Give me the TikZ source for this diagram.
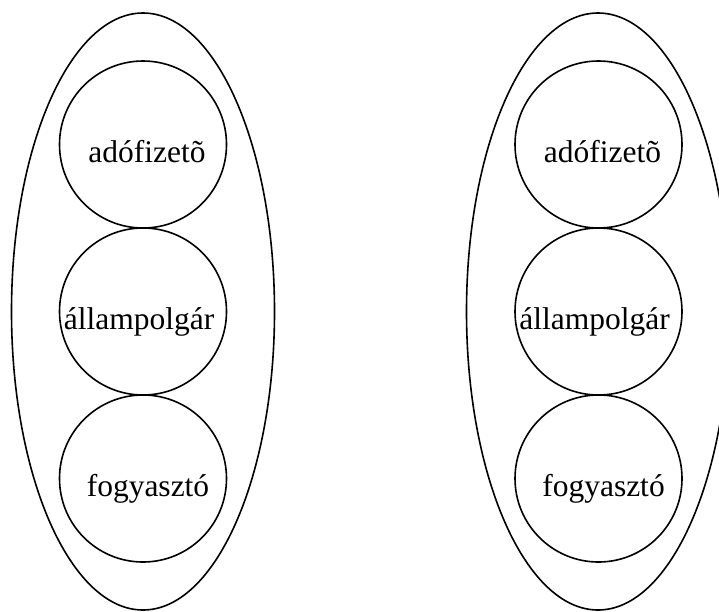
\documentclass[tikz,border=0pt]{standalone}
\usepackage{fontspec}
\setmainfont{Liberation Serif}
\usetikzlibrary{shapes.geometric}

\begin{document}
\begin{tikzpicture}[x=1pt, y=-1pt, line width=1.6pt,
        group/.style={draw, ellipse, inner sep=0pt, minimum width=263pt, minimum height=597pt},
        role/.style={draw, circle, inner sep=0pt, minimum size=167pt},
        word/.style={anchor=base, inner sep=0pt, font=\fontsize{31.5}{36}\selectfont}]
        \useasboundingbox (0,0) rectangle (719,611);
        
        \node[group] (leftgroup) at (143,311.5) {};
        \node[group] (rightgroup) at (598,311.5) {};
        
        \node[role] (lefttax) at (143,144.5) {};
        \node[role] (leftcitizen) at (143,311.5) {};
        \node[role] (leftconsumer) at (143,478.5) {};
        
        \node[role] (righttax) at (598.5,144.5) {};
        \node[role] (rightcitizen) at (598.5,311.5) {};
        \node[role] (rightconsumer) at (598.5,478.5) {};
        
        \node[word] (lefttaxtext) at ([shift={(4,18)}]lefttax.center) {adófizetõ};
        \node[word] (leftcitizentext) at ([shift={(-4,18)}]leftcitizen.center) {állampolgár};
        \node[word] (leftconsumertext) at ([shift={(5,18)}]leftconsumer.center) {fogyasztó};
        
        \node[word] (righttaxtext) at ([shift={(4,18)}]righttax.center) {adófizetõ};
        \node[word] (rightcitizentext) at ([shift={(-4,18)}]rightcitizen.center) {állampolgár};
        \node[word] (rightconsumertext) at ([shift={(5,18)}]rightconsumer.center) {fogyasztó};
\end{tikzpicture}
\end{document}
